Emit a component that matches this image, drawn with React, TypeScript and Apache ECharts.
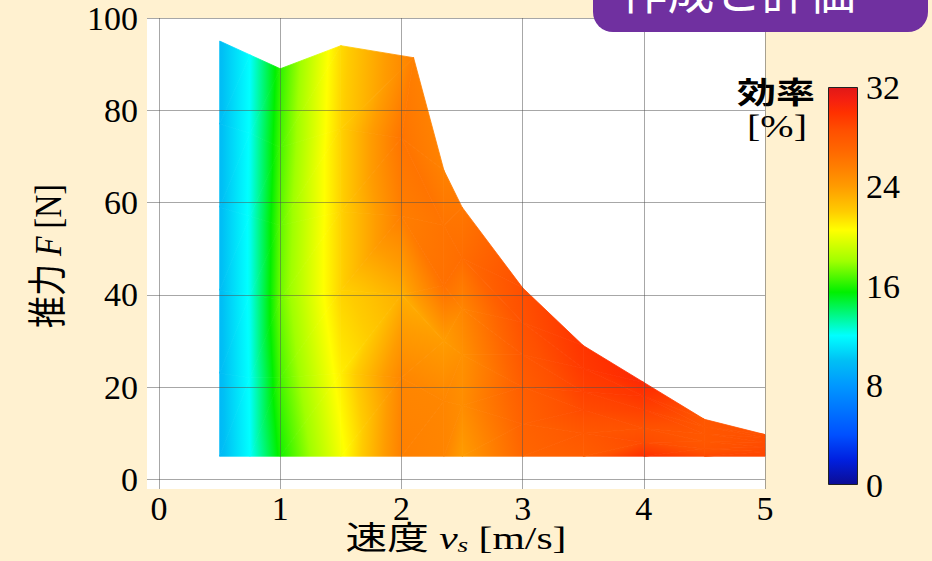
import React, { useEffect, useRef } from "react";
import * as echarts from "echarts";

// ---- axis ticks ----
const SPEED_TICKS = [0, 1, 2, 3, 4, 5];
const THRUST_TICKS = [0, 20, 40, 60, 80, 100];
const EFFICIENCY_TICKS = [0, 8, 16, 24, 32];

// ---- measured points: one column per speed, rows from bottom (F = 5 N) to the top boundary ----
const COLUMN_SPEEDS = [0.5, 0.75, 1.0, 1.5, 2.0, 2.35, 2.5, 3.0, 3.5, 4.0, 4.5, 5.0];
const COLUMN_TOP_SPEEDS = [0.5, 0.75, 1.0, 1.5, 2.1, 2.35, 2.5, 3.0, 3.5, 4.0, 4.5, 5.0];
const THRUST_BY_COLUMN = [
  [5, 23, 41, 59, 77, 95],
  [5, 22, 40, 57, 75, 92],
  [5, 22, 39, 55, 72, 89],
  [5, 23, 41, 58, 76, 94],
  [5, 22, 40, 57, 74, 91.4],
  [5, 17, 30, 42, 55, 67],
  [5, 16, 27, 37, 48, 59],
  [5, 12, 20, 27, 34, 41.5],
  [5, 10, 15, 19, 24, 29],
  [5, 8, 11, 15, 18, 21],
  [5, 6.6, 8.2, 9.8, 11.4, 13],
  [5, 6, 7, 8, 9, 9.7],
];
const EFFICIENCY_BY_COLUMN = [
  [9.6, 9.7, 9.8, 9.8, 9.8, 9.8],
  [12.0, 12.1, 12.2, 12.2, 12.1, 12.0],
  [15.8, 16.6, 17.2, 17.0, 16.6, 16.2],
  [20.2, 21.0, 21.8, 21.8, 21.8, 21.6],
  [25.5, 25.2, 23.2, 25.6, 26.2, 25.5],
  [25.3, 25.2, 24.0, 26.4, 26.2, 25.4],
  [24.0, 24.8, 24.6, 25.2, 26.6, 26.0],
  [27.0, 27.3, 27.6, 28.0, 28.4, 28.6],
  [27.6, 28.0, 28.8, 29.2, 29.6, 29.8],
  [30.0, 28.8, 28.4, 29.2, 29.8, 30.4],
  [28.8, 28.2, 28.0, 28.0, 28.0, 28.0],
  [29.0, 28.9, 28.8, 28.7, 28.6, 28.5],
];

// ---- colour map (efficiency % -> colour) ----
const CMAP_VALUES = [0, 2, 4, 8, 10, 12, 15.5, 18, 20.5, 22, 24, 25.5, 27, 28.5, 30, 31, 32];
const CMAP_COLORS = [
  "#0c0c94", "#0020e0", "#0050ff", "#0098ff", "#00c0f5", "#00ffff", "#00f000", "#a0ff00",
  "#ffff00", "#ffcc00", "#ff9c00", "#ff8000", "#ff6600", "#ff5000", "#ff3000", "#f52010", "#e01818",
];

const SERIF = "'Liberation Serif', 'Times New Roman', 'Noto Sans CJK JP', serif";
const GRID_COLOR = "rgba(80,80,80,0.5)";

function hexToRgb(h: string) {
  const n = parseInt(h.slice(1), 16);
  return [(n >> 16) & 255, (n >> 8) & 255, n & 255];
}
function cmap(s: number) {
  const v = Math.max(CMAP_VALUES[0], Math.min(CMAP_VALUES[CMAP_VALUES.length - 1], s));
  let i = 0;
  while (i < CMAP_VALUES.length - 2 && v > CMAP_VALUES[i + 1]) i++;
  const t = (v - CMAP_VALUES[i]) / (CMAP_VALUES[i + 1] - CMAP_VALUES[i]);
  const a = hexToRgb(CMAP_COLORS[i]);
  const b = hexToRgb(CMAP_COLORS[i + 1]);
  const c = a.map((x, k) => Math.round(x + (b[k] - x) * t));
  return `rgb(${c[0]},${c[1]},${c[2]})`;
}

function shadedTriangle(pts: number[][], vals: number[]) {
  const [p0, p1, p2] = pts;
  const [s0, s1, s2] = vals;
  const lo = Math.min(s0, s1, s2);
  const hi = Math.max(s0, s1, s2);
  const dx1 = p1[0] - p0[0], dy1 = p1[1] - p0[1];
  const dx2 = p2[0] - p0[0], dy2 = p2[1] - p0[1];
  const ds1 = s1 - s0, ds2 = s2 - s0;
  const det = dx1 * dy2 - dx2 * dy1;
  const makeFill = () => {
    if (hi - lo < 1e-4 || Math.abs(det) < 1e-6) return cmap((s0 + s1 + s2) / 3);
    const a = (ds1 * dy2 - ds2 * dy1) / det;
    const b = (dx1 * ds2 - dx2 * ds1) / det;
    const g2 = a * a + b * b;
    const t0 = (lo - s0) / g2;
    const t1 = (hi - s0) / g2;
    const stops: { offset: number; color: string }[] = [{ offset: 0, color: cmap(lo) }];
    CMAP_VALUES.forEach((v) => {
      if (v > lo && v < hi) stops.push({ offset: (v - lo) / (hi - lo), color: cmap(v) });
    });
    stops.push({ offset: 1, color: cmap(hi) });
    return {
      type: "linear",
      x: p0[0] + a * t0,
      y: p0[1] + b * t0,
      x2: p0[0] + a * t1,
      y2: p0[1] + b * t1,
      global: true,
      colorStops: stops,
    };
  };
  return {
    type: "polygon",
    shape: { points: pts },
    style: { fill: makeFill(), stroke: makeFill(), lineWidth: 0.8 },
  };
}

export default function App() {
  const ref = useRef<HTMLDivElement>(null);
  useEffect(() => {
    document.body.style.margin = "0";
    const chart = echarts.init(ref.current!, undefined, { renderer: "svg" });
    const nRows = THRUST_BY_COLUMN[0].length;
    const quadData: number[][] = [];
    for (let c = 0; c < COLUMN_SPEEDS.length - 1; c++) {
      for (let r = 0; r < nRows - 1; r++) {
        quadData.push([
          (COLUMN_SPEEDS[c] + COLUMN_SPEEDS[c + 1]) / 2,
          (THRUST_BY_COLUMN[c][r] + THRUST_BY_COLUMN[c + 1][r + 1]) / 2,
          c,
          r,
        ]);
      }
    }
    const pointOf = (api: any, c: number, r: number) => {
      const v = r === nRows - 1 ? COLUMN_TOP_SPEEDS[c] : COLUMN_SPEEDS[c];
      return api.coord([v, THRUST_BY_COLUMN[c][r]]);
    };
    const renderItem = (_params: any, api: any) => {
      const c = api.value(2);
      const r = api.value(3);
      const p00 = pointOf(api, c, r);
      const p10 = pointOf(api, c + 1, r);
      const p11 = pointOf(api, c + 1, r + 1);
      const p01 = pointOf(api, c, r + 1);
      const e = EFFICIENCY_BY_COLUMN;
      return {
        type: "group",
        children: [
          shadedTriangle([p00, p10, p11], [e[c][r], e[c + 1][r], e[c + 1][r + 1]]),
          shadedTriangle([p00, p11, p01], [e[c][r], e[c + 1][r + 1], e[c][r + 1]]),
        ],
      };
    };

    const barStops = CMAP_VALUES.map((v, i) => ({
      offset: v / EFFICIENCY_TICKS[EFFICIENCY_TICKS.length - 1],
      color: CMAP_COLORS[i],
    }));

    const axisLabelStyle = { color: "#000", fontSize: 34, fontFamily: SERIF, lineHeight: 28 };

    const option: any = {
      animation: false,
      backgroundColor: "#fff1d0",
      grid: [
        { left: 147, right: 167, top: 18, bottom: 72, show: true, backgroundColor: "#ffffff", borderWidth: 0 },
        { left: 828, top: 87, width: 30, height: 398, show: false },
      ],
      xAxis: [
        {
          type: "value",
          gridIndex: 0,
          min: -0.1,
          max: 5,
          z: 3,
          axisLine: { show: false },
          axisTick: { show: false, customValues: SPEED_TICKS },
          axisLabel: { ...axisLabelStyle, customValues: SPEED_TICKS, margin: 5 },
          splitLine: { show: true, lineStyle: { color: GRID_COLOR, width: 1 } },
        },
        { type: "category", gridIndex: 1, data: ["効率"], show: false },
      ],
      yAxis: [
        {
          type: "value",
          gridIndex: 0,
          min: -2.1,
          max: 100,
          z: 3,
          axisLine: { show: false },
          axisTick: { show: false, customValues: THRUST_TICKS },
          axisLabel: { ...axisLabelStyle, customValues: THRUST_TICKS, margin: 9, padding: [3, 0, 0, 0] },
          splitLine: { show: true, lineStyle: { color: GRID_COLOR, width: 1 } },
        },
        {
          type: "value",
          gridIndex: 1,
          min: 0,
          max: 32,
          interval: 8,
          position: "right",
          axisLine: { show: false },
          axisTick: { show: false },
          splitLine: { show: false },
          axisLabel: { ...axisLabelStyle, margin: 8 },
        },
      ],
      series: [
        {
          type: "custom",
          xAxisIndex: 0,
          yAxisIndex: 0,
          silent: true,
          z: 2,
          encode: { x: 0, y: 1 },
          data: quadData,
          renderItem,
        },
        {
          type: "bar",
          xAxisIndex: 1,
          yAxisIndex: 1,
          silent: true,
          barWidth: "100%",
          data: [EFFICIENCY_TICKS[EFFICIENCY_TICKS.length - 1]],
          itemStyle: {
            color: { type: "linear", x: 0, y: 1, x2: 0, y2: 0, colorStops: barStops },
            borderColor: "#222",
            borderWidth: 1,
          },
        },
      ],
      graphic: [
        {
          type: "text",
          x: 456,
          y: 538,
          scaleX: 1.3,
          style: {
            text: "{a|速度 }{v|v}{s|s}{a| [m/s]}",
            align: "center",
            verticalAlign: "middle",
            rich: {
              a: { fontSize: 32, fontFamily: SERIF, fill: "#000", lineHeight: 34 },
              v: { fontSize: 32, fontFamily: SERIF, fontStyle: "italic", fill: "#000", lineHeight: 34 },
              s: { fontSize: 21, fontFamily: SERIF, fontStyle: "italic", fill: "#000", lineHeight: 12, verticalAlign: "bottom" },
            },
          },
        },
        {
          type: "text",
          x: 49,
          y: 256,
          rotation: Math.PI / 2,
          scaleY: 1.2,
          style: {
            text: "{a|推力 }{f|F}{a| [N]}",
            align: "center",
            verticalAlign: "middle",
            rich: {
              a: { fontSize: 32, fontFamily: SERIF, fill: "#000" },
              f: { fontSize: 32, fontFamily: SERIF, fontStyle: "italic", fill: "#000" },
            },
          },
        },
        {
          type: "text",
          x: 776,
          y: 90,
          scaleX: 1.3,
          style: {
            text: "効率",
            fontSize: 30,
            fontWeight: "bold",
            fontFamily: "'Noto Sans CJK JP', sans-serif",
            fill: "#000",
            align: "center",
            verticalAlign: "middle",
          },
        },
        {
          type: "text",
          x: 777,
          y: 126,
          scaleX: 1.25,
          style: {
            text: "[%]",
            fontSize: 32,
            fontFamily: SERIF,
            fill: "#000",
            align: "center",
            verticalAlign: "middle",
          },
        },
        {
          type: "rect",
          z: 10,
          shape: { x: 593, y: -30, width: 335, height: 62, r: 20 },
          style: { fill: "#7030a0" },
        },
        {
          type: "text",
          z: 11,
          x: 738,
          y: -12,
          style: {
            text: "作成と評価",
            fontSize: 47,
            fontFamily: "'Noto Sans CJK JP', sans-serif",
            fill: "#ffffff",
            align: "center",
            verticalAlign: "middle",
          },
        },
      ],
    };
    chart.setOption(option);
    return () => chart.dispose();
  }, []);
  return <div ref={ref} style={{ width: 932, height: 561 }} />;
}
